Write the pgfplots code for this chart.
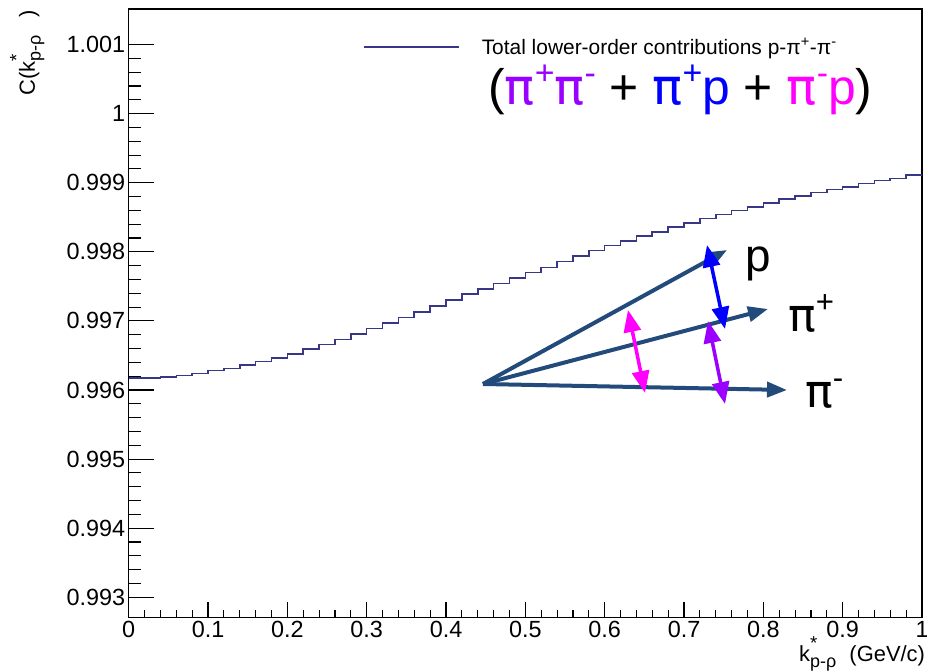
\documentclass[border=0pt]{standalone}
\usepackage{fontspec}
\setmainfont{Liberation Sans}
\newfontfamily\pifont{DejaVu Sans}
\usepackage{pgfplots}
\pgfplotsset{compat=1.18}
\usetikzlibrary{arrows.meta}
\definecolor{histc}{RGB}{55,55,135}
\definecolor{arrc}{RGB}{34,74,122}
\definecolor{ppurple}{RGB}{153,0,255}
\definecolor{pblue}{RGB}{0,0,255}
\definecolor{pmag}{RGB}{255,0,255}
\newcommand{\bigsup}[1]{\raisebox{0.42em}{\scalebox{0.68}{#1}}}
\newcommand{\bpi}{{\pifont π}}
\newcommand{\kstar}{k\rlap{\raisebox{0.55em}{\scalebox{0.85}{*}}}\raisebox{-0.26em}{\scalebox{0.82}{p-ρ}}}
\pgfplotstableread{
x y
0.00 0.99617
0.02 0.99617
0.04 0.99619
0.06 0.99621
0.08 0.99624
0.10 0.99628
0.12 0.99631
0.14 0.99636
0.16 0.99641
0.18 0.99646
0.20 0.99652
0.22 0.99659
0.24 0.99666
0.26 0.99673
0.28 0.99681
0.30 0.99689
0.32 0.99697
0.34 0.99705
0.36 0.99713
0.38 0.99722
0.40 0.99730
0.42 0.99739
0.44 0.99746
0.46 0.99754
0.48 0.99762
0.50 0.99770
0.52 0.99777
0.54 0.99786
0.56 0.99794
0.58 0.99802
0.60 0.99809
0.62 0.99816
0.64 0.99823
0.66 0.99829
0.68 0.99836
0.70 0.99842
0.72 0.99848
0.74 0.99854
0.76 0.99860
0.78 0.99865
0.80 0.99871
0.82 0.99876
0.84 0.99881
0.86 0.99886
0.88 0.99890
0.90 0.99894
0.92 0.99899
0.94 0.99903
0.96 0.99906
0.98 0.99911
1.00 0.99911
}\histdata
\begin{document}
\begin{tikzpicture}[x=1bp,y=1bp]
\useasboundingbox (0,0) rectangle (927,672);
\begin{axis}[
  at={(128.7bp,54.3bp)}, anchor=south west,
  scale only axis, width=793.3bp, height=608.7bp,
  xmin=0, xmax=1, ymin=0.992705, ymax=1.001514,
  axis line style={line width=1.4bp, black},
  tick align=inside, xtick pos=left, ytick pos=left,
  xtick={0,0.1,0.2,0.3,0.4,0.5,0.6,0.7,0.8,0.9,1},
  xticklabels={0,0.1,0.2,0.3,0.4,0.5,0.6,0.7,0.8,0.9,1},
  ytick={0.993,0.994,0.995,0.996,0.997,0.998,0.999,1,1.001},
  yticklabels={0.993,0.994,0.995,0.996,0.997,0.998,0.999,1,1.001},
  minor x tick num=4, minor y tick num=4,
  xtick style={/pgfplots/major tick length=16bp, /pgfplots/minor tick length=8bp, line width=1.1bp, black},
  ytick style={/pgfplots/major tick length=25bp, /pgfplots/minor tick length=12bp, line width=1.1bp, black},
  minor tick style={line width=1.1bp, black},
  ticklabel style={font=\fontsize{23.5}{27}\selectfont},
  xlabel={\kstar\hspace{0.6em}(GeV/c)},
  xlabel style={at={(axis description cs:1.004,-0.031)}, anchor=north east, inner sep=0pt, font=\fontsize{22}{26}\selectfont},
  ylabel={C(\kstar\hspace{0.8em})},
  ylabel style={at={(axis description cs:-0.128,0.998)}, anchor=east, inner sep=0pt, font=\fontsize{22}{26}\selectfont},
  legend style={at={(axis description cs:0.2953,0.9375)}, anchor=west, draw=none, fill=none, inner sep=0pt, font=\fontsize{21}{25}\selectfont,
    /tikz/every odd column/.append style={column sep=20bp}},
  legend cell align=left,
  legend image code/.code={\draw[#1] (0bp,0bp) -- (95bp,0bp);},
]
\addplot[const plot, color=histc, line width=1.6bp] table[x=x,y=y] {\histdata};
\addlegendentry{Total lower-order contributions p-π\textsuperscript{+}-π\textsuperscript{-}}
\end{axis}
% annotation diagram
\begin{scope}[line width=4bp, color=arrc, -{Triangle[length=20bp,width=15bp]}]
\draw (483,288) -- (727,422);
\draw (483,288) -- (768,363);
\draw (483,288) -- (787,282);
\end{scope}
\begin{scope}[line width=3.5bp, {Triangle[length=22bp,width=17bp]}-{Triangle[length=22bp,width=17bp]}]
\draw[pblue] (707,427) -- (725,343);
\draw[pmag] (628,362) -- (645,279);
\draw[ppurple] (708,351) -- (725,268);
\end{scope}
\begin{scope}[font=\fontsize{46}{50}\selectfont, inner sep=0pt]
\node[anchor=base west] at (745,400) {p};
\node[anchor=base west] at (788,340) {\bpi\bigsup{+}};
\node[anchor=base west] at (805,264) {\bpi\bigsup{-}};
\node[anchor=base west, font=\fontsize{50}{54}\selectfont] at (488,567) {(\textcolor{ppurple}{\bpi\bigsup{+}\bpi\bigsup{-}} + \textcolor{pblue}{\bpi\bigsup{+}p} + \textcolor{pmag}{\bpi\bigsup{-}p})};
\end{scope}
\end{tikzpicture}
\end{document}
